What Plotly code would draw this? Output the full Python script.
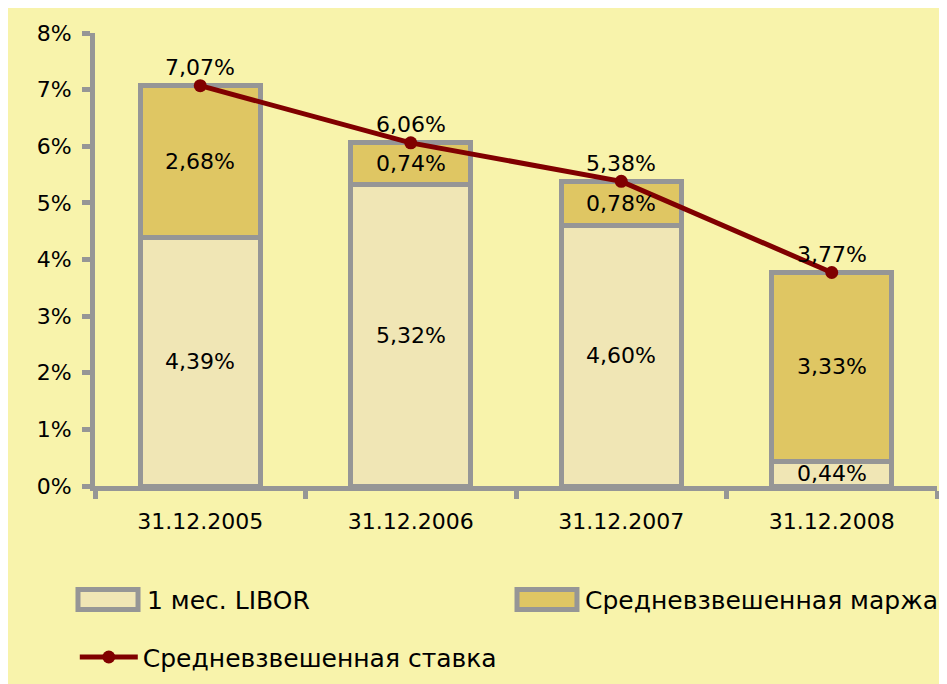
import plotly.graph_objects as go

categories = ["31.12.2005", "31.12.2006", "31.12.2007", "31.12.2008"]
libor = [4.39, 5.32, 4.60, 0.44]
margin = [2.68, 0.74, 0.78, 3.33]
rate = [7.07, 6.06, 5.38, 3.77]
y_ticks = [0, 1, 2, 3, 4, 5, 6, 7, 8]
y_tick_text = [f"{v}%" for v in y_ticks]
series_names = ["1 мес. LIBOR", "Средневзвешенная маржа", "Средневзвешенная ставка"]

BG = "#F8F3AB"
GREY = "#969696"
RED = "#800000"
C_LIBOR = "#F0E6B5"
C_MARGIN = "#DFC663"
FONT = "DejaVu Sans"
FS = 22
LEG_FS = 25


def pct(v):
    return f"{v:.2f}%".replace(".", ",")


fig = go.Figure()
fig.add_trace(go.Bar(
    x=categories, y=libor, name=series_names[0],
    marker=dict(color=C_LIBOR, line=dict(color=GREY, width=5)),
    showlegend=False,
))
fig.add_trace(go.Bar(
    x=categories, y=margin, name=series_names[1],
    marker=dict(color=C_MARGIN, line=dict(color=GREY, width=5)),
    showlegend=False,
))
fig.add_trace(go.Scatter(
    x=categories, y=rate, name=series_names[2],
    mode="lines+markers",
    line=dict(color=RED, width=5),
    marker=dict(color=RED, size=13),
    showlegend=True,
))

# labels inside the bar segments
base = [0] * len(categories)
for vals in (libor, margin):
    for i, c in enumerate(categories):
        fig.add_annotation(
            x=c, y=base[i] + vals[i] / 2, xref="x", yref="y",
            text=pct(vals[i]), showarrow=False,
            font=dict(family=FONT, size=FS, color="black"),
        )
    base = [b + v for b, v in zip(base, vals)]

# total labels above the line points
for c, v in zip(categories, rate):
    fig.add_annotation(
        x=c, y=v, xref="x", yref="y", yshift=18,
        text=pct(v), showarrow=False,
        font=dict(family=FONT, size=FS, color="black"),
    )

# legend boxes for the bar series (drawn as wide rectangles like the original)
for (x0, x1, tx), col, name in [((-0.0202, 0.0511, 0.0594), C_LIBOR, series_names[0]),
                                ((0.5012, 0.5724, 0.5796), C_MARGIN, series_names[1])]:
    fig.add_shape(type="rect", xref="paper", yref="paper",
                  x0=x0, x1=x1, y0=-0.2725, y1=-0.2286,
                  fillcolor=col, line=dict(color=GREY, width=5))
    fig.add_annotation(x=tx, y=-0.2527, xref="paper", yref="paper",
                       xanchor="left", yanchor="middle", showarrow=False,
                       text=name, font=dict(family=FONT, size=LEG_FS, color="black"))

fig.update_layout(
    width=947, height=684,
    margin=dict(l=87, r=18, t=25, b=204),
    paper_bgcolor=BG, plot_bgcolor=BG,
    barmode="stack", bargap=0.43,
    font=dict(family=FONT, size=FS, color="black"),
    legend=dict(orientation="h", x=-0.024, y=-0.378, xanchor="left", yanchor="middle",
                itemwidth=58,
                font=dict(family=FONT, size=LEG_FS), bgcolor="rgba(0,0,0,0)"),
)
fig.update_xaxes(showline=True, linecolor=GREY, linewidth=5,
                 ticks="outside", tickcolor=GREY, tickwidth=5, ticklen=8,
                 tickson="boundaries", showgrid=False, ticklabelstandoff=12,
                 tickfont=dict(family=FONT, size=FS))
fig.update_yaxes(range=[0, 8], tickvals=y_ticks, ticktext=y_tick_text,
                 showline=True, linecolor=GREY, linewidth=5,
                 ticks="outside", tickcolor=GREY, tickwidth=5, ticklen=8,
                 showgrid=False, zeroline=False, ticklabelstandoff=6,
                 tickfont=dict(family=FONT, size=FS))

fig.write_html("out.html")
